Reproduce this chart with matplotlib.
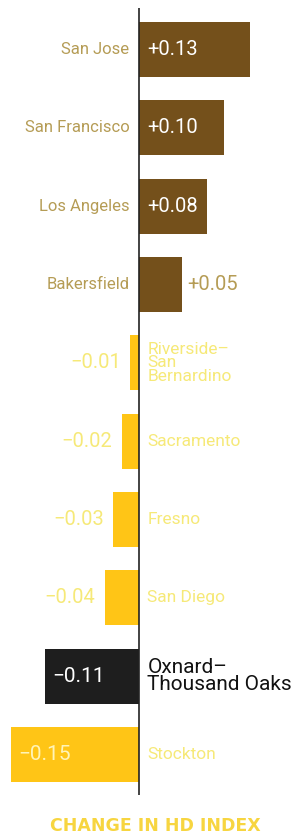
import matplotlib
matplotlib.use("Agg")
import matplotlib.pyplot as plt


# 数据
cities = ["San Jose", "San Francisco", "Los Angeles", "Bakersfield",
          "Riverside–\nSan\nBernardino", "Sacramento", "Fresno", "San Diego",
          "Oxnard–\nThousand Oaks", "Stockton"]
values = [0.13, 0.10, 0.08, 0.05, -0.01, -0.02, -0.03, -0.04, -0.11, -0.15]
value_labels = ["+0.13", "+0.10", "+0.08", "+0.05", "−0.01", "−0.02", "−0.03",
                "−0.04", "−0.11", "−0.15"]
highlight = "Oxnard–\nThousand Oaks"
title = "CHANGE IN HD INDEX"

# 颜色
brown = "#74501b"
yellow = "#ffc516"
dark = "#1e1e1e"
gold_text = "#b59c55"
pale_text = "#f6e978"

plt.rcParams['font.family'] = ['Roboto', 'DejaVu Sans']

fig = plt.figure(figsize=(3.08, 8.4), dpi=100)
ax = fig.add_axes([0, 1 - 795 / 840, 1, (795 - 8) / 840])

ys = list(range(len(values)))
colors = []
for c, v in zip(cities, values):
	if c == highlight:
		colors.append(dark)
	elif v > 0:
		colors.append(brown)
	else:
		colors.append(yellow)
ax.barh(ys, values, height=0.70, color=colors, zorder=2)
ax.axvline(0, color="#222222", lw=1.2, zorder=3)

for y, c, v, lab in zip(ys, cities, values, value_labels):
	if v > 0:
		ax.annotate(c, (0, y), xytext=(-7, 0), textcoords="offset points",
					ha="right", va="center", color=gold_text, fontsize=12)
		if v >= 0.08:
			ax.annotate(lab, (0, y), xytext=(6, 0), textcoords="offset points",
						ha="left", va="center", color="white", fontsize=14.5)
		else:
			ax.annotate(lab, (v, y), xytext=(4, 0), textcoords="offset points",
						ha="left", va="center", color=gold_text, fontsize=14.5)
	else:
		if c == highlight:
			ax.annotate(c, (0, y), xytext=(6, 0), textcoords="offset points",
						ha="left", va="center", color="#111111", fontsize=15,
						linespacing=0.9)
		else:
			ax.annotate(c, (0, y), xytext=(6, 0), textcoords="offset points",
						ha="left", va="center", color=pale_text, fontsize=12.5,
						linespacing=0.85)
		if v <= -0.11:
			tc = "white" if c == highlight else "#fff4b8"
			ax.annotate(lab, (v, y), xytext=(5, 0), textcoords="offset points",
						ha="left", va="center", color=tc, fontsize=15)
		else:
			ax.annotate(lab, (v, y), xytext=(-7, 0), textcoords="offset points",
						ha="right", va="center", color=pale_text, fontsize=14.5)

ax.set_xlim(-0.1628, 0.198)
ax.set_ylim(9.517, -0.53)
ax.axis("off")

fig.text(0.503, 1 - 826 / 840, title, ha="center", va="center",
		 color="#f7d540", fontsize=12.5, fontweight="bold", family="DejaVu Sans")

fig.savefig("out.png", dpi=100)
